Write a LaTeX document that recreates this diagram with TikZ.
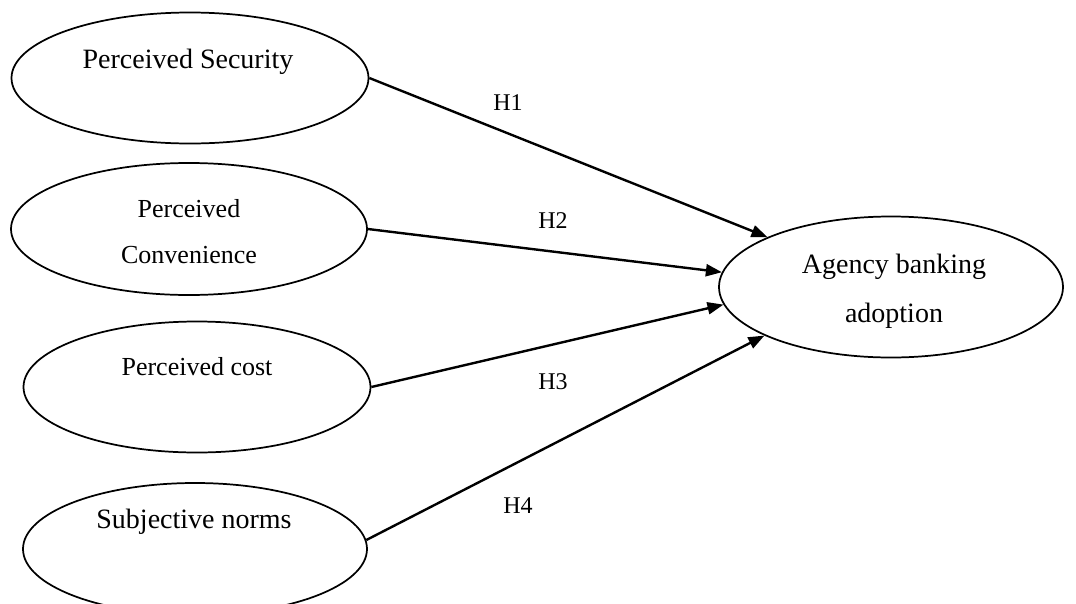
\documentclass[tikz,border=0pt]{standalone}
\usepackage{fontspec}
\setmainfont{Liberation Serif}
\usetikzlibrary{shapes.geometric,arrows.meta}

\begin{document}
\begin{tikzpicture}[x=0.75pt,y=0.75pt,yscale=-1,xscale=1,
    construct/.style={ellipse, draw, line width=1.3pt, inner sep=0pt},
    hyp/.style={line width=1.8pt, -{Triangle[length=12pt,width=9pt]}},
    big/.style={font=\fontsize{21}{25}\selectfont},
    mid/.style={font=\fontsize{19.5}{23}\selectfont},
    hlab/.style={font=\fontsize{18}{22}\selectfont}]
        \useasboundingbox (0,0) rectangle (1076,604);
        \clip (0,0) rectangle (1076,604);

        % constructs
        \draw (190,78) node [construct, minimum width=267.75pt, minimum height=98.25pt] (sec) {};
        \draw (189,229) node [construct, minimum width=267pt, minimum height=99pt] (conv) {};
        \draw (197,387) node [construct, minimum width=260.25pt, minimum height=98.25pt] (cost) {};
        \draw (195,549) node [construct, minimum width=258pt, minimum height=99pt] (norm) {};
        \draw (891,287) node [construct, minimum width=258pt, minimum height=105.75pt] (adopt) {};

        \draw (188,68) node [anchor=base][inner sep=0.75pt] [big] (tsec) {Perceived Security};
        \draw (189,217) node [anchor=base][inner sep=0.75pt] [mid] (tconv1) {Perceived};
        \draw (189,263) node [anchor=base][inner sep=0.75pt] [mid] (tconv2) {Convenience};
        \draw (197,375) node [anchor=base][inner sep=0.75pt] [mid] (tcost) {Perceived cost};
        \draw (194,528) node [anchor=base][inner sep=0.75pt] [big] (tnorm) {Subjective norms};
        \draw (894,273) node [anchor=base][inner sep=0.75pt] [big] (tadopt1) {Agency banking};
        \draw (894,322) node [anchor=base][inner sep=0.75pt] [big] (tadopt2) {adoption};

        % hypotheses
        \draw [hyp] (sec.east) -- (adopt.158);
        \draw [hyp] (conv.east) -- (adopt.175);
        \draw [hyp] (cost.east) -- (adopt.186);
        \draw [hyp] (norm.3) -- (adopt.201);

        \draw (508,110) node [anchor=base][inner sep=0.75pt] [hlab] (h1) {H1};
        \draw (553,228) node [anchor=base][inner sep=0.75pt] [hlab] (h2) {H2};
        \draw (553,389) node [anchor=base][inner sep=0.75pt] [hlab] (h3) {H3};
        \draw (518,513) node [anchor=base][inner sep=0.75pt] [hlab] (h4) {H4};
\end{tikzpicture}
\end{document}
